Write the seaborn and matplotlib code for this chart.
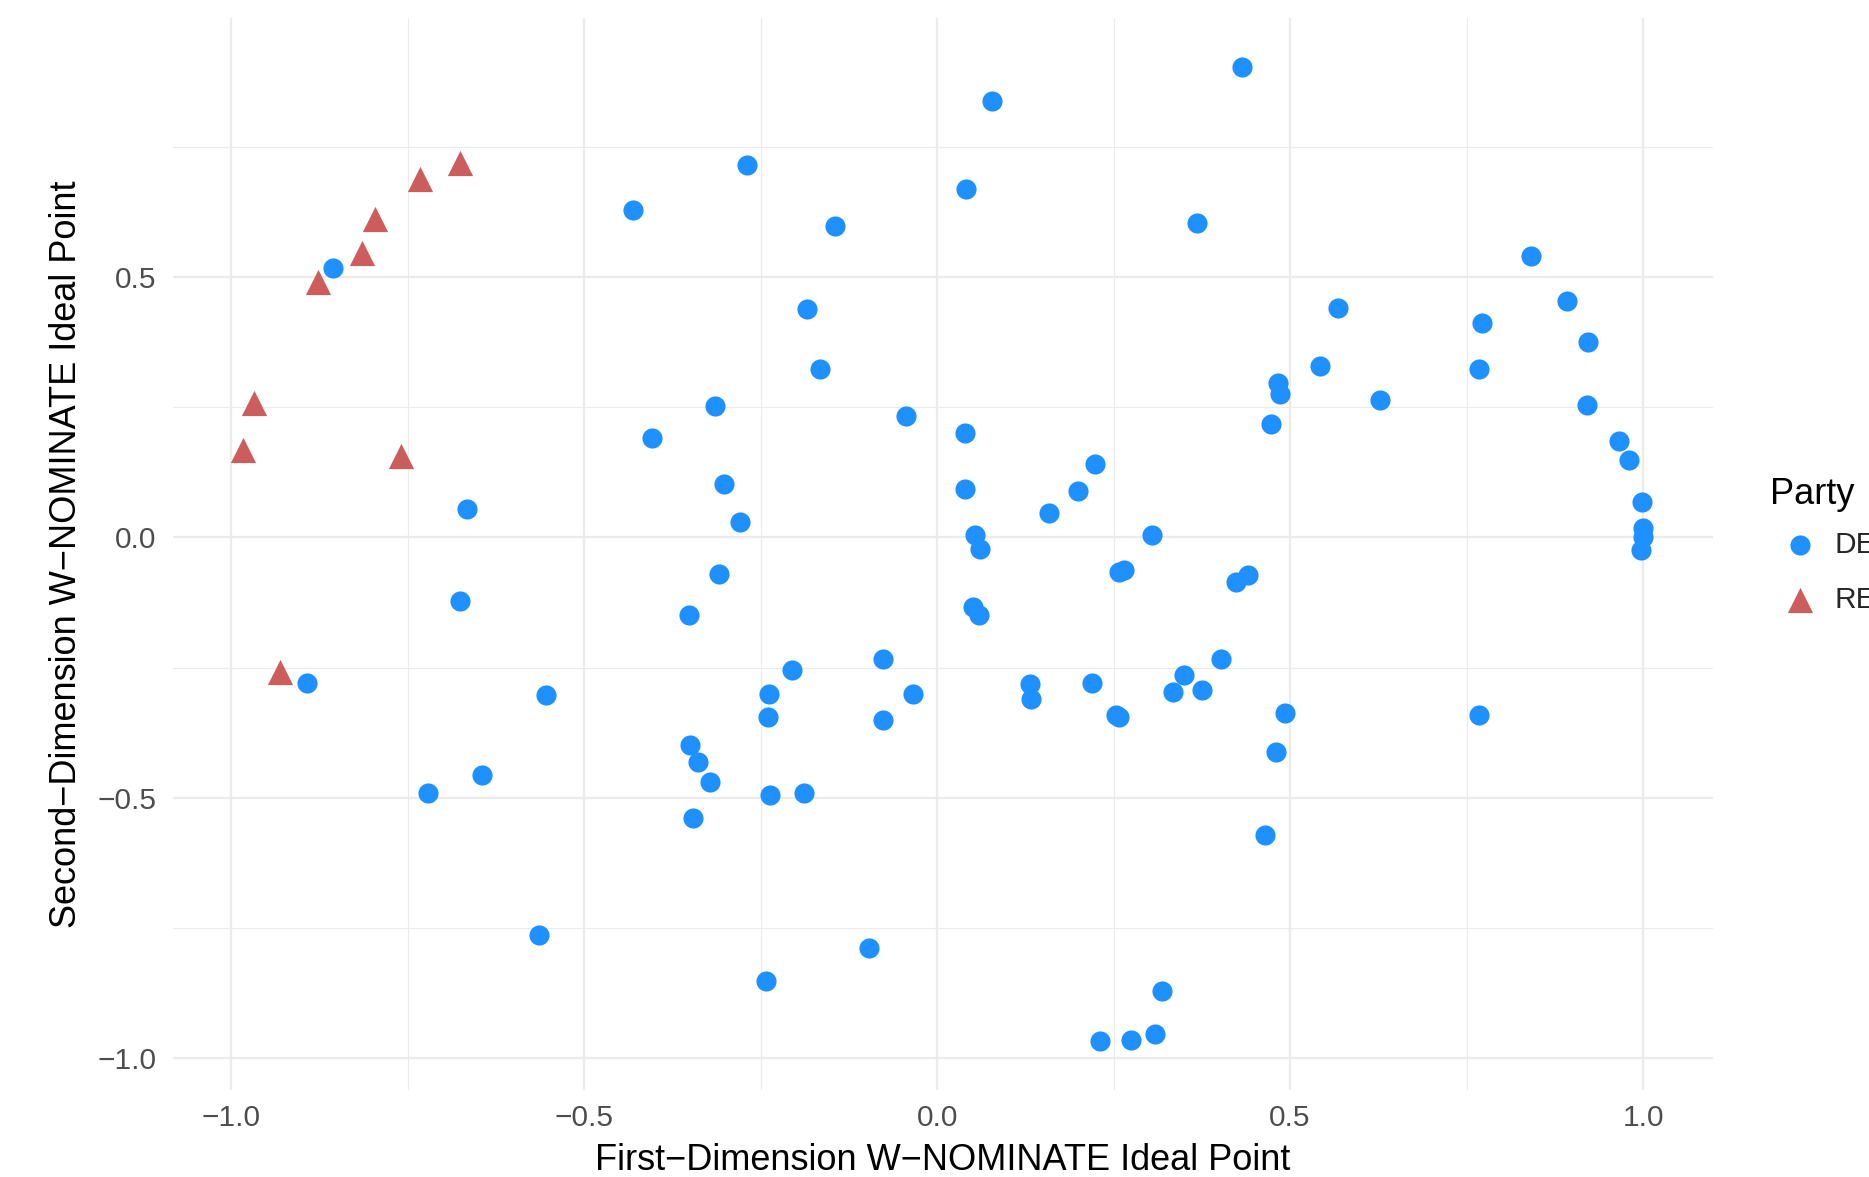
import matplotlib
matplotlib.use("Agg")
import matplotlib.pyplot as plt
from matplotlib.ticker import FixedLocator, FuncFormatter
import pandas as pd
import seaborn as sns

# W-NOMINATE ideal points
rep_x = [-0.676, -0.733, -0.796, -0.814, -0.877, -0.968, -0.983, -0.760, -0.931]
rep_y = [0.720, 0.688, 0.612, 0.546, 0.491, 0.259, 0.167, 0.156, -0.259]

dem_x = [
    0.432, 0.078, -0.269, 0.041, -0.431, -0.144, 0.368, 0.841, -0.856, 0.892,
    -0.184, 0.568, 0.772, 0.922, 0.542, -0.166, 0.767, 0.483, 0.486, 0.627,
    -0.314, 0.921, -0.044, 0.473, 0.039, -0.404, 0.966, 0.980, 0.223, -0.302,
    0.039, 0.199, 0.998, -0.666, 0.159, -0.279, 1.000, 0.054, 0.304, 1.000,
    0.061, 0.997, 0.265, 0.258, -0.309, 0.441, 0.424, -0.676, 0.051, 0.059,
    -0.351, -0.076, 0.402, -0.206, 0.350, 0.132, 0.220, -0.892, 0.375, 0.334,
    -0.238, -0.034, -0.554, 0.133, 0.493, 0.767, 0.253, 0.258, -0.240, -0.076,
    -0.350, 0.480, -0.338, -0.644, -0.321, -0.189, -0.236, -0.721, -0.346, 0.465,
    -0.564, -0.096, -0.242, 0.318, 0.309, 0.231, 0.274,
]
dem_y = [
    0.904, 0.839, 0.716, 0.670, 0.628, 0.599, 0.603, 0.541, 0.518, 0.454,
    0.438, 0.440, 0.411, 0.376, 0.330, 0.323, 0.323, 0.296, 0.275, 0.264,
    0.252, 0.255, 0.234, 0.218, 0.200, 0.190, 0.186, 0.149, 0.140, 0.103,
    0.092, 0.089, 0.067, 0.055, 0.046, 0.030, 0.018, 0.005, 0.005, 0.000,
    -0.023, -0.025, -0.062, -0.067, -0.071, -0.073, -0.085, -0.122, -0.133, -0.149,
    -0.149, -0.234, -0.234, -0.255, -0.264, -0.282, -0.280, -0.280, -0.294, -0.298,
    -0.300, -0.300, -0.303, -0.310, -0.337, -0.342, -0.342, -0.346, -0.346, -0.351,
    -0.399, -0.413, -0.431, -0.456, -0.470, -0.491, -0.495, -0.491, -0.539, -0.571,
    -0.764, -0.789, -0.853, -0.872, -0.954, -0.968, -0.966,
]

x_ticks = [-1.0, -0.5, 0.0, 0.5, 1.0]
y_ticks = [-1.0, -0.5, 0.0, 0.5]


def run_plot():
    sns.set_theme(style="white")
    plt.rcParams["font.family"] = ["Liberation Sans", "DejaVu Sans"]

    df = pd.DataFrame({
        "x": dem_x + rep_x,
        "y": dem_y + rep_y,
        "party": ["DEM"] * len(dem_x) + ["REP"] * len(rep_x),
    })

    fig = plt.figure(figsize=(18.69, 11.77), dpi=100)
    ax = fig.add_axes([0.0926, 0.0739, 0.8240, 0.9108])

    sns.scatterplot(data=df[df["party"] == "DEM"], x="x", y="y", color="#1E90FF",
                    marker="o", s=210, linewidth=0, ax=ax, label="DEM", zorder=3)
    sns.scatterplot(data=df[df["party"] == "REP"], x="x", y="y", color="#CD5C5C",
                    marker="^", s=330, linewidth=0, ax=ax, label="REP", zorder=3)

    # ggplot-style 5% expansion
    xr = df["x"].max() - df["x"].min()
    yr = df["y"].max() - df["y"].min()
    ax.set_xlim(df["x"].min() - 0.05 * xr, df["x"].max() + 0.05 * xr)
    ax.set_ylim(df["y"].min() - 0.05 * yr, df["y"].max() + 0.05 * yr)

    fmt = FuncFormatter(lambda v, p: f"{v:.1f}".replace("-", "\u2212"))
    ax.xaxis.set_major_locator(FixedLocator(x_ticks))
    ax.yaxis.set_major_locator(FixedLocator(y_ticks))
    ax.xaxis.set_minor_locator(FixedLocator([-0.75, -0.25, 0.25, 0.75]))
    ax.yaxis.set_minor_locator(FixedLocator([-0.75, -0.25, 0.25, 0.75]))
    ax.xaxis.set_major_formatter(fmt)
    ax.yaxis.set_major_formatter(fmt)

    ax.grid(which="major", color="#EBEBEB", linewidth=1.6, zorder=0)
    ax.grid(which="minor", color="#EBEBEB", linewidth=0.8, zorder=0)
    ax.set_axisbelow(True)
    for sp in ax.spines.values():
        sp.set_visible(False)

    ax.tick_params(axis="both", which="both", length=0, labelsize=21.5, labelcolor="#4D4D4D")
    ax.tick_params(axis="x", pad=10)
    ax.tick_params(axis="y", pad=12)

    ax.set_xlabel("First\u2212Dimension W\u2212NOMINATE Ideal Point", fontsize=26, color="black", labelpad=8)
    ax.set_ylabel("Second\u2212Dimension W\u2212NOMINATE Ideal Point", fontsize=26, color="black", labelpad=10)

    # legend title drawn separately so its gap to the keys matches ggplot
    fig.text(0.947, 1 - 495 / 1177, "Party", fontsize=26, color="black", ha="left", va="center")
    ax.legend(loc="upper left", bbox_to_anchor=(0.947, 0.549),
              bbox_transform=fig.transFigure, frameon=False, fontsize=21.5,
              handlelength=2.0, handletextpad=0.15, borderpad=0, borderaxespad=0,
              labelspacing=0.9)

    fig.savefig("out.png", dpi=100)
    plt.close(fig)


if __name__ == "__main__":
    run_plot()
